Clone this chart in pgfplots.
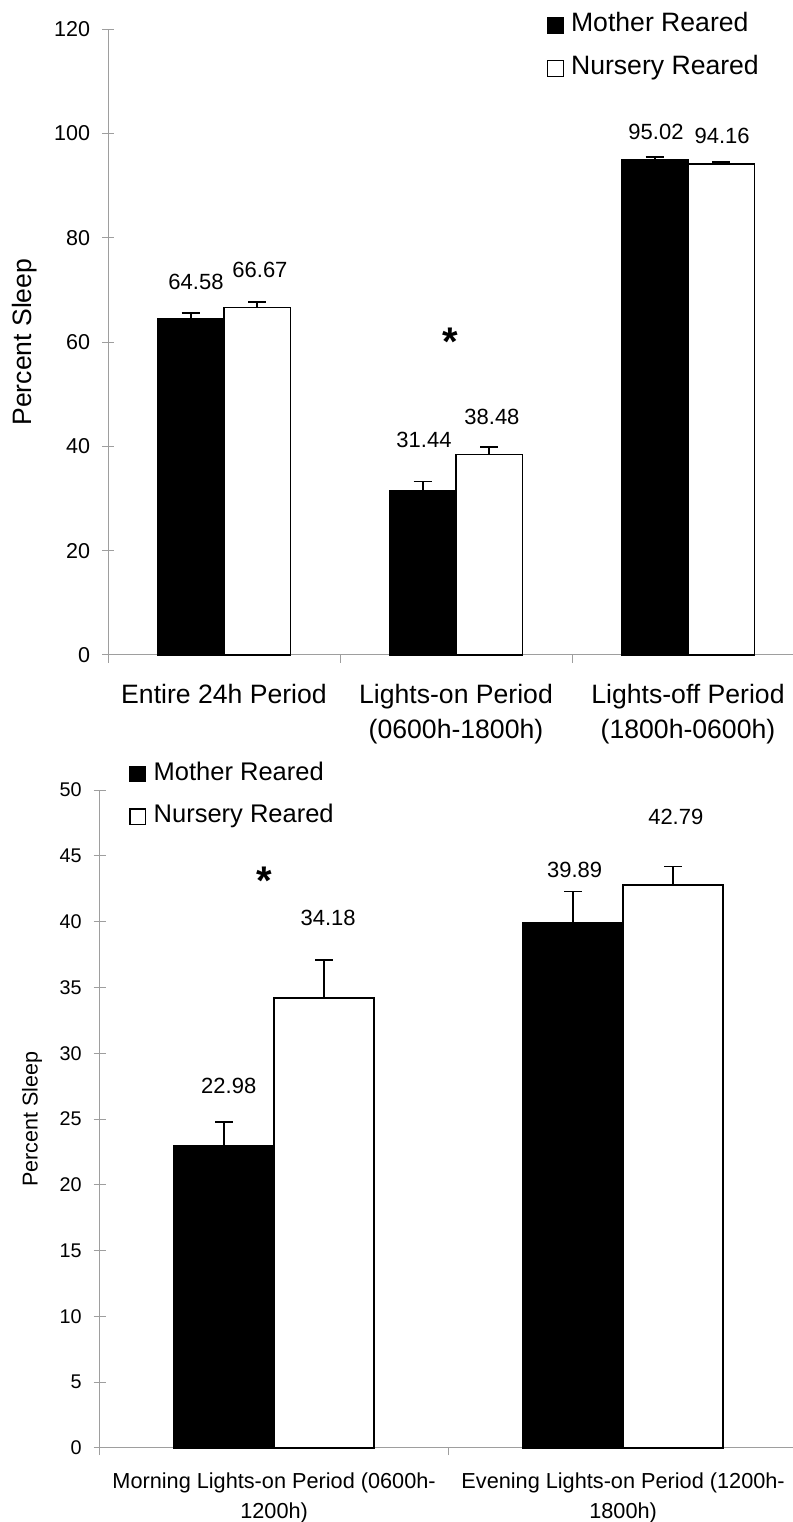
\documentclass[border=0pt]{standalone}
\usepackage{fontspec}
\setmainfont{Liberation Sans}
\usepackage{pgfplots}
\pgfplotsset{compat=1.18}
\definecolor{axgray}{gray}{0.62}
\begin{document}
\begin{tikzpicture}
\path[use as bounding box] (0,0) rectangle (396.5pt,761pt);
% ---------------- top panel ----------------
\begin{axis}[
  name=top, at={(54pt,433.5pt)}, anchor=south west,
  scale only axis, width=348pt, height=312.85pt,
  ybar=0pt, bar width=33.25pt,
  xmin=-0.5, xmax=2.5, ymin=0, ymax=120,
  ytick={0,20,40,60,80,100,120},
  yticklabels={0,20,40,60,80,100,120},
  axis x line*=bottom, axis y line*=left,
  axis line style={axgray, line width=0.5pt, -},
  tick align=outside,
  xtick={0,1,2},
  xticklabels={Entire 24h Period, Lights-on Period\\(0600h-1800h), Lights-off Period\\(1800h-0600h)},
  major x tick style={draw=none},
  minor xtick={-0.5,0.5,1.5,2.5},
  minor x tick style={axgray, line width=0.5pt},
  minor tick length=4pt,
  major tick length=5.8pt,
  major y tick style={axgray, line width=0.5pt, xshift=2.9pt},
  yticklabel style={font=\fontsize{10.75}{12}\selectfont, inner sep=0pt, xshift=-3pt},
  xticklabel style={font=\fontsize{13.3}{17.5}\selectfont, align=center, inner sep=0pt, yshift=-8.5pt},
  ylabel={\fontsize{13.3}{15}\selectfont Percent Sleep},
  ylabel style={at={(axis description cs:-0.1193,0.5)}, anchor=center},
  clip=false,
  legend style={at={(rel axis cs:0.630,1.029)}, anchor=north west, draw=none, fill=none, inner sep=0pt,
    font=\fontsize{13.3}{15}\selectfont, row sep=8.65pt,
    nodes={inner sep=0pt, text height=10pt, text depth=3pt},
    /tikz/every odd column/.append style={column sep=3.5pt}},
  legend cell align=left,
  legend image code/.code={\draw[#1, line width=0.6pt] (0pt,-4.5pt) rectangle (8pt,3.5pt);},
]
\addplot[fill=black, draw=black, line width=0.7pt,
  error bars/.cd, y dir=plus, y explicit, error mark=|,
  error bar style={black, line width=0.8pt},
  error mark options={black, line width=0.8pt, mark size=4.5pt}]
  coordinates {(0,64.58) +- (0,1.0) (1,31.44) +- (0,1.8) (2,95.02) +- (0,0.5)};
\addlegendentry{Mother Reared}
\addplot[fill=white, draw=black, line width=0.7pt,
  error bars/.cd, y dir=plus, y explicit, error mark=|,
  error bar style={black, line width=0.8pt},
  error mark options={black, line width=0.8pt, mark size=4.5pt}]
  coordinates {(0,66.67) +- (0,1.0) (1,38.48) +- (0,1.45) (2,94.16) +- (0,0.4)};
\addlegendentry{Nursery Reared}
\begin{scope}[every node/.style={font=\fontsize{11}{12}\selectfont, inner sep=0pt}]
\node at (axis cs:-0.1207,71.5) {64.58};
\node at (axis cs:0.155,73.85) {66.67};
\node at (axis cs:0.862,41.3) {31.44};
\node at (axis cs:1.155,45.7) {38.48};
\node at (axis cs:1.862,100.4) {95.02};
\node at (axis cs:2.147,99.5) {94.16};
\end{scope}
\node[font=\fontsize{20}{22}\selectfont\bfseries, inner sep=0pt, anchor=base] at (axis cs:0.975,57.4) {*};
\end{axis}
% ---------------- bottom panel ----------------
\begin{axis}[
  name=bot, at={(49.8pt,37pt)}, anchor=south west,
  scale only axis, width=349pt, height=329pt,
  ybar=0pt, bar width=50pt,
  xmin=-0.5, xmax=1.5, ymin=0, ymax=50,
  ytick={0,5,10,15,20,25,30,35,40,45,50},
  yticklabels={0,5,10,15,20,25,30,35,40,45,50},
  axis x line*=bottom, axis y line*=left,
  axis line style={axgray, line width=0.5pt, -},
  tick align=outside,
  xtick={0,1},
  xticklabels={Morning Lights-on Period (0600h-\\1200h), Evening Lights-on Period (1200h-\\1800h)},
  major x tick style={draw=none},
  minor xtick={-0.5,0.5,1.5},
  minor x tick style={axgray, line width=0.5pt},
  minor tick length=3.5pt,
  major tick length=6pt,
  major y tick style={axgray, line width=0.5pt, xshift=3pt},
  yticklabel style={font=\fontsize{9.9}{11}\selectfont, inner sep=0pt, xshift=-2.8pt},
  xticklabel style={font=\fontsize{10.85}{15}\selectfont, align=center, inner sep=0pt, yshift=-6pt},
  ylabel={\fontsize{10.75}{12}\selectfont Percent Sleep},
  ylabel style={at={(axis description cs:-0.0969,0.5)}, anchor=center},
  clip=false,
  legend style={at={(rel axis cs:0.042,1.0462)}, anchor=north west, draw=none, fill=none, inner sep=0pt,
    font=\fontsize{12.75}{15}\selectfont, row sep=8.25pt,
    nodes={inner sep=0pt, text height=10pt, text depth=3pt},
    /tikz/every odd column/.append style={column sep=4pt}},
  legend cell align=left,
  legend image code/.code={\draw[#1, line width=0.6pt] (0pt,-4.3pt) rectangle (7.6pt,3.3pt);},
]
\addplot[fill=black, draw=black, line width=0.7pt,
  error bars/.cd, y dir=plus, y explicit, error mark=|,
  error bar style={black, line width=0.8pt},
  error mark options={black, line width=0.8pt, mark size=4.5pt}]
  coordinates {(0,22.98) +- (0,1.8) (1,39.89) +- (0,2.4)};
\addlegendentry{Mother Reared}
\addplot[fill=white, draw=black, line width=0.7pt,
  error bars/.cd, y dir=plus, y explicit, error mark=|,
  error bar style={black, line width=0.8pt},
  error mark options={black, line width=0.8pt, mark size=4.5pt}]
  coordinates {(0,34.18) +- (0,2.9) (1,42.79) +- (0,1.4)};
\addlegendentry{Nursery Reared}
\begin{scope}[every node/.style={font=\fontsize{11}{12}\selectfont, inner sep=0pt}]
\node at (axis cs:-0.130,27.5) {22.98};
\node at (axis cs:0.155,40.27) {34.18};
\node at (axis cs:0.861,43.96) {39.89};
\node at (axis cs:1.151,47.97) {42.79};
\end{scope}
\node[font=\fontsize{20}{22}\selectfont\bfseries, inner sep=0pt, anchor=base] at (axis cs:-0.0275,42.05) {*};
\end{axis}
\end{tikzpicture}
\end{document}
